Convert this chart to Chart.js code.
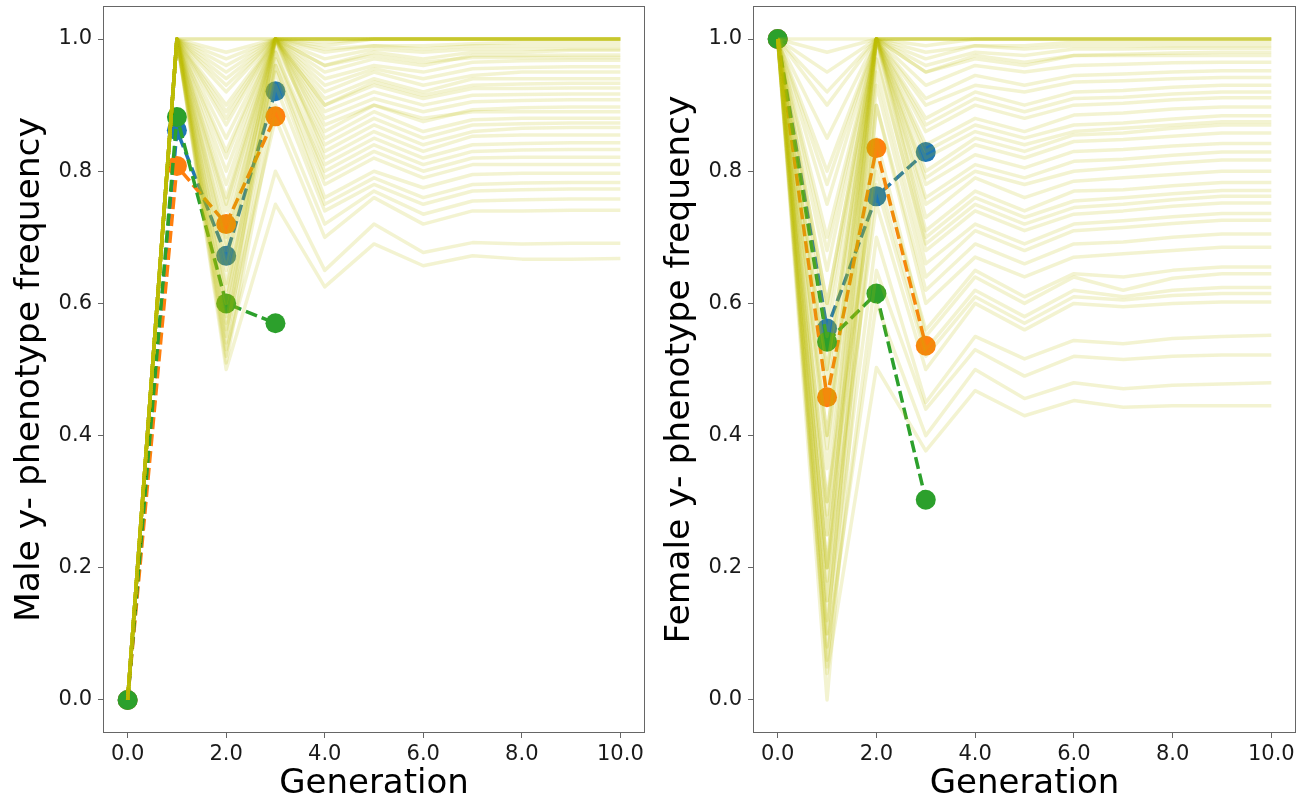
<!DOCTYPE html>
<html>
<head>
<meta charset="utf-8">
<script src="https://cdn.jsdelivr.net/npm/chart.js@4.4.1/dist/chart.umd.min.js"></script>
<style>
  body { margin: 0; background: #fff; }
  #wrap { position: relative; width: 1300px; height: 805px; }
  canvas { position: absolute; top: 0; }
</style>
</head>
<body>
<div id="wrap">
  <canvas id="maleChart" width="650" height="805" style="left:0"></canvas>
  <canvas id="femaleChart" width="650" height="805" style="left:650px"></canvas>
</div>
<script>
// generations on the x axis and tick positions
const generations = [0, 1, 2, 3, 4, 5, 6, 7, 8, 9, 10];
const xTicks = [0, 2, 4, 6, 8, 10];
const yTicks = [0, 0.2, 0.4, 0.6, 0.8, 1.0];

// observed series (generations 0-3)
const maleBlue   = [0.0, 0.862, 0.672, 0.921];
const maleOrange = [0.0, 0.808, 0.720, 0.883];
const maleGreen  = [0.0, 0.882, 0.600, 0.570];

const femaleBlue   = [1.0, 0.562, 0.762, 0.829];
const femaleOrange = [1.0, 0.458, 0.835, 0.536];
const femaleGreen  = [1.0, 0.542, 0.615, 0.303];

// simulated runs, male
const maleRuns = [
  [0, 1, 1.00, 1.00, 1.00, 1.00, 1.00, 1.00, 1.00, 1.00, 1.00],
  [0, 1, 1.00, 1.00, 1.00, 1.00, 1.00, 1.00, 1.00, 1.00, 1.00],
  [0, 1, 0.98, 1.00, 1.00, 1.00, 1.00, 1.00, 1.00, 1.00, 1.00],
  [0, 1, 0.97, 1.00, 1.00, 1.00, 1.00, 1.00, 1.00, 1.00, 1.00],
  [0, 1, 0.96, 1.00, 1.00, 1.00, 1.00, 1.00, 1.00, 1.00, 1.00],
  [0, 1, 0.95, 1.00, 1.00, 1.00, 1.00, 1.00, 1.00, 1.00, 1.00],
  [0, 1, 0.94, 1.00, 0.995, 1.00, 1.00, 1.00, 1.00, 1.00, 1.00],
  [0, 1, 0.93, 1.00, 1.00, 1.00, 1.00, 1.00, 1.00, 1.00, 1.00],
  [0, 1, 0.90, 1.00, 0.99, 1.00, 1.00, 1.00, 1.00, 1.00, 1.00],
  [0, 1, 0.89, 1.00, 0.985, 0.99, 0.99, 0.993, 0.995, 0.995, 0.995],
  [0, 1, 0.92, 1.00, 0.97, 0.985, 0.98, 0.985, 0.985, 0.985, 0.985],
  [0, 1, 0.85, 1.00, 0.98, 0.99, 0.985, 0.99, 0.99, 0.99, 0.99],
  [0, 1, 0.80, 1.00, 0.96, 0.98, 0.97, 0.98, 0.98, 0.983, 0.983],
  [0, 1, 0.82, 1.00, 0.95, 0.97, 0.96, 0.975, 0.975, 0.976, 0.976],
  [0, 1, 0.87, 1.00, 0.96, 0.975, 0.965, 0.972, 0.972, 0.972, 0.972],
  [0, 1, 0.75, 1.00, 0.94, 0.96, 0.95, 0.965, 0.967, 0.968, 0.968],
  [0, 1, 0.76, 1.00, 0.93, 0.955, 0.94, 0.955, 0.957, 0.958, 0.958],
  [0, 1, 0.70, 1.00, 0.92, 0.95, 0.93, 0.945, 0.95, 0.95, 0.95],
  [0, 1, 0.72, 1.00, 0.91, 0.94, 0.92, 0.94, 0.94, 0.94, 0.94],
  [0, 1, 0.74, 1.00, 0.90, 0.935, 0.915, 0.93, 0.932, 0.933, 0.933],
  [0, 1, 0.65, 1.00, 0.90, 0.93, 0.91, 0.925, 0.925, 0.926, 0.926],
  [0, 1, 0.69, 1.00, 0.89, 0.92, 0.90, 0.915, 0.916, 0.917, 0.917],
  [0, 1, 0.60, 1.00, 0.88, 0.91, 0.89, 0.905, 0.907, 0.908, 0.908],
  [0, 1, 0.55, 1.00, 0.86, 0.90, 0.875, 0.893, 0.896, 0.897, 0.897],
  [0, 1, 0.83, 1.00, 0.87, 0.90, 0.88, 0.89, 0.89, 0.89, 0.89],
  [0, 1, 0.88, 1.00, 0.85, 0.89, 0.86, 0.878, 0.88, 0.88, 0.88],
  [0, 1, 0.63, 0.99, 0.84, 0.88, 0.85, 0.87, 0.872, 0.873, 0.873],
  [0, 1, 0.66, 1.00, 0.83, 0.87, 0.84, 0.86, 0.865, 0.866, 0.866],
  [0, 1, 0.78, 1.00, 0.82, 0.86, 0.83, 0.853, 0.855, 0.855, 0.855],
  [0, 1, 0.57, 0.98, 0.81, 0.85, 0.82, 0.84, 0.842, 0.843, 0.843],
  [0, 1, 0.60, 0.97, 0.80, 0.84, 0.81, 0.83, 0.832, 0.833, 0.833],
  [0, 1, 0.68, 0.98, 0.79, 0.83, 0.80, 0.82, 0.821, 0.821, 0.821],
  [0, 1, 0.54, 0.96, 0.78, 0.82, 0.79, 0.81, 0.81, 0.81, 0.81],
  [0, 1, 0.62, 0.96, 0.76, 0.80, 0.775, 0.795, 0.797, 0.797, 0.797],
  [0, 1, 0.58, 0.95, 0.75, 0.79, 0.76, 0.78, 0.782, 0.783, 0.783],
  [0, 1, 0.52, 0.93, 0.74, 0.78, 0.75, 0.77, 0.772, 0.773, 0.773],
  [0, 1, 0.51, 0.90, 0.72, 0.77, 0.735, 0.755, 0.757, 0.758, 0.758],
  [0, 1, 0.56, 0.88, 0.70, 0.76, 0.72, 0.74, 0.74, 0.741, 0.741],
  [0, 1, 0.53, 0.80, 0.65, 0.72, 0.677, 0.692, 0.69, 0.691, 0.691],
  [0, 1, 0.50, 0.75, 0.625, 0.69, 0.657, 0.672, 0.667, 0.667, 0.668]
];

// simulated runs, female
const femaleRuns = [
  [1, 1.00, 1.00, 1.00, 1.00, 1.00, 1.00, 1.00, 1.00, 1.00, 1.00],
  [1, 0.98, 1.00, 1.00, 1.00, 1.00, 1.00, 1.00, 1.00, 1.00, 1.00],
  [1, 0.95, 1.00, 1.00, 1.00, 1.00, 1.00, 1.00, 1.00, 1.00, 1.00],
  [1, 0.92, 1.00, 1.00, 1.00, 1.00, 1.00, 1.00, 1.00, 1.00, 1.00],
  [1, 0.60, 1.00, 1.00, 1.00, 1.00, 1.00, 1.00, 1.00, 1.00, 1.00],
  [1, 0.90, 1.00, 0.99, 1.00, 1.00, 1.00, 1.00, 1.00, 1.00, 1.00],
  [1, 0.85, 1.00, 0.97, 0.99, 0.99, 0.995, 0.995, 0.995, 0.995, 0.995],
  [1, 0.50, 1.00, 0.98, 0.99, 0.985, 0.99, 0.99, 0.99, 0.99, 0.99],
  [1, 0.80, 1.00, 0.96, 0.98, 0.975, 0.985, 0.985, 0.986, 0.986, 0.986],
  [1, 0.78, 1.00, 0.95, 0.975, 0.965, 0.975, 0.977, 0.979, 0.98, 0.98],
  [1, 0.40, 1.00, 0.95, 0.97, 0.96, 0.975, 0.975, 0.975, 0.975, 0.975],
  [1, 0.75, 1.00, 0.93, 0.96, 0.95, 0.96, 0.962, 0.964, 0.965, 0.965],
  [1, 0.68, 1.00, 0.91, 0.945, 0.93, 0.945, 0.947, 0.95, 0.952, 0.952],
  [1, 0.70, 1.00, 0.90, 0.93, 0.92, 0.935, 0.937, 0.94, 0.942, 0.942],
  [1, 0.58, 1.00, 0.88, 0.92, 0.90, 0.92, 0.922, 0.927, 0.93, 0.93],
  [1, 0.65, 1.00, 0.87, 0.91, 0.89, 0.91, 0.912, 0.917, 0.92, 0.92],
  [1, 0.60, 1.00, 0.86, 0.90, 0.88, 0.90, 0.903, 0.908, 0.911, 0.911],
  [1, 0.55, 1.00, 0.84, 0.88, 0.86, 0.885, 0.888, 0.894, 0.897, 0.897],
  [1, 0.48, 1.00, 0.83, 0.87, 0.85, 0.87, 0.873, 0.879, 0.884, 0.884],
  [1, 0.20, 1.00, 0.82, 0.86, 0.84, 0.86, 0.865, 0.87, 0.875, 0.875],
  [1, 0.50, 1.00, 0.80, 0.85, 0.83, 0.855, 0.858, 0.865, 0.87, 0.87],
  [1, 0.45, 1.00, 0.79, 0.84, 0.82, 0.845, 0.848, 0.853, 0.858, 0.858],
  [1, 0.38, 1.00, 0.78, 0.825, 0.805, 0.83, 0.833, 0.838, 0.842, 0.842],
  [1, 0.40, 1.00, 0.76, 0.81, 0.79, 0.815, 0.818, 0.824, 0.829, 0.829],
  [1, 0.35, 1.00, 0.75, 0.80, 0.78, 0.80, 0.806, 0.812, 0.817, 0.817],
  [1, 0.28, 1.00, 0.73, 0.79, 0.76, 0.785, 0.79, 0.795, 0.80, 0.80],
  [1, 0.30, 1.00, 0.71, 0.77, 0.74, 0.77, 0.772, 0.778, 0.783, 0.783],
  [1, 0.25, 1.00, 0.70, 0.76, 0.73, 0.755, 0.76, 0.766, 0.771, 0.771],
  [1, 0.18, 0.97, 0.69, 0.75, 0.72, 0.745, 0.75, 0.757, 0.762, 0.762],
  [1, 0.20, 0.98, 0.68, 0.74, 0.71, 0.735, 0.74, 0.747, 0.752, 0.752],
  [1, 0.15, 0.95, 0.66, 0.72, 0.69, 0.72, 0.725, 0.731, 0.736, 0.736],
  [1, 0.10, 0.93, 0.64, 0.71, 0.68, 0.71, 0.715, 0.721, 0.726, 0.726],
  [1, 0.10, 0.90, 0.62, 0.69, 0.66, 0.69, 0.693, 0.70, 0.705, 0.705],
  [1, 0.05, 0.90, 0.60, 0.67, 0.64, 0.67, 0.675, 0.68, 0.685, 0.685],
  [1, 0.25, 0.82, 0.56, 0.65, 0.61, 0.645, 0.64, 0.65, 0.655, 0.655],
  [1, 0.00, 0.85, 0.55, 0.64, 0.60, 0.64, 0.62, 0.638, 0.645, 0.645],
  [1, 0.30, 0.80, 0.53, 0.62, 0.58, 0.62, 0.61, 0.62, 0.624, 0.624],
  [1, 0.15, 0.78, 0.52, 0.61, 0.57, 0.61, 0.605, 0.612, 0.615, 0.615],
  [1, 0.20, 0.75, 0.50, 0.60, 0.56, 0.60, 0.595, 0.60, 0.602, 0.602],
  [1, 0.12, 0.70, 0.45, 0.55, 0.516, 0.544, 0.539, 0.547, 0.55, 0.552],
  [1, 0.06, 0.65, 0.44, 0.53, 0.49, 0.52, 0.515, 0.52, 0.522, 0.522],
  [1, 0.08, 0.60, 0.40, 0.50, 0.456, 0.48, 0.471, 0.476, 0.478, 0.48],
  [1, 0.04, 0.503, 0.377, 0.468, 0.43, 0.453, 0.443, 0.445, 0.445, 0.445]
];

const FONT = "'DejaVu Sans', sans-serif";

function toPoints(vals) {
  return vals.map((v, i) => ({ x: generations[i], y: v }));
}

// matplotlib-like box around the plot area
const framePlugin = {
  id: 'frame',
  afterDraw(chart) {
    const a = chart.chartArea, c = chart.ctx;
    c.save();
    c.strokeStyle = '#666';
    c.lineWidth = 1;
    c.strokeRect(Math.round(a.left) + 0.5, Math.round(a.top) + 0.5,
                 Math.round(a.right - a.left) - 1, Math.round(a.bottom - a.top) - 1);
    c.restore();
  }
};

function observed(vals, color, order) {
  return {
    data: toPoints(vals),
    borderColor: color,
    backgroundColor: color,
    borderWidth: 3.5,
    borderDash: [12, 5],
    pointRadius: 10,
    pointBorderWidth: 0,
    pointBackgroundColor: color,
    tension: 0,
    order: order
  };
}

function makeChart(id, runs, blue, orange, green, yLabel, rightPad) {
  const datasets = runs.map(r => ({
    data: toPoints(r),
    borderColor: 'rgba(191,191,0,0.18)',
    borderWidth: 3.5,
    borderJoinStyle: 'round',
    pointRadius: 0,
    tension: 0,
    order: 0
  }));
  datasets.push(observed(blue, '#1f77b4', 3));
  datasets.push(observed(orange, '#ff7f0e', 2));
  datasets.push(observed(green, '#2ca02c', 1));

  return new Chart(document.getElementById(id), {
    type: 'line',
    data: { datasets: datasets },
    options: {
      responsive: false,
      animation: false,
      events: [],
      layout: { autoPadding: false, padding: { top: 6, right: rightPad, left: 0, bottom: 0 } },
      plugins: { legend: { display: false }, tooltip: { enabled: false } },
      scales: {
        x: {
          type: 'linear',
          min: -0.5,
          max: 10.5,
          afterBuildTicks: s => { s.ticks = xTicks.map(v => ({ value: v })); },
          afterFit: s => { s.height = 72; s.paddingLeft = 0; s.paddingRight = 0; },
          grid: { drawOnChartArea: false, drawTicks: true, tickLength: 5, color: '#666' },
          border: { display: false },
          ticks: {
            color: '#1a1a1a',
            padding: 4,
            maxRotation: 0,
            font: { family: FONT, size: 21 },
            callback: v => v.toFixed(1)
          },
          title: {
            display: true,
            text: 'Generation',
            color: '#000',
            font: { family: FONT, size: 34 },
            padding: { top: 0, bottom: 0 }
          }
        },
        y: {
          min: -0.05,
          max: 1.05,
          afterBuildTicks: s => { s.ticks = yTicks.map(v => ({ value: v })); },
          afterFit: s => { s.width = 103; s.paddingTop = 0; s.paddingBottom = 0; },
          grid: { drawOnChartArea: false, drawTicks: true, tickLength: 5, color: '#666' },
          border: { display: false },
          ticks: {
            color: '#1a1a1a',
            padding: 6,
            font: { family: FONT, size: 21 },
            callback: v => v.toFixed(1)
          },
          title: {
            display: true,
            text: yLabel,
            color: '#000',
            font: { family: FONT, size: 34.5 },
            padding: { top: 9, bottom: 0 }
          }
        }
      }
    },
    plugins: [framePlugin]
  });
}

makeChart('maleChart', maleRuns, maleBlue, maleOrange, maleGreen, 'Male y- phenotype frequency', 5);
makeChart('femaleChart', femaleRuns, femaleBlue, femaleOrange, femaleGreen, 'Female y- phenotype frequency', 4);
</script>
</body>
</html>
